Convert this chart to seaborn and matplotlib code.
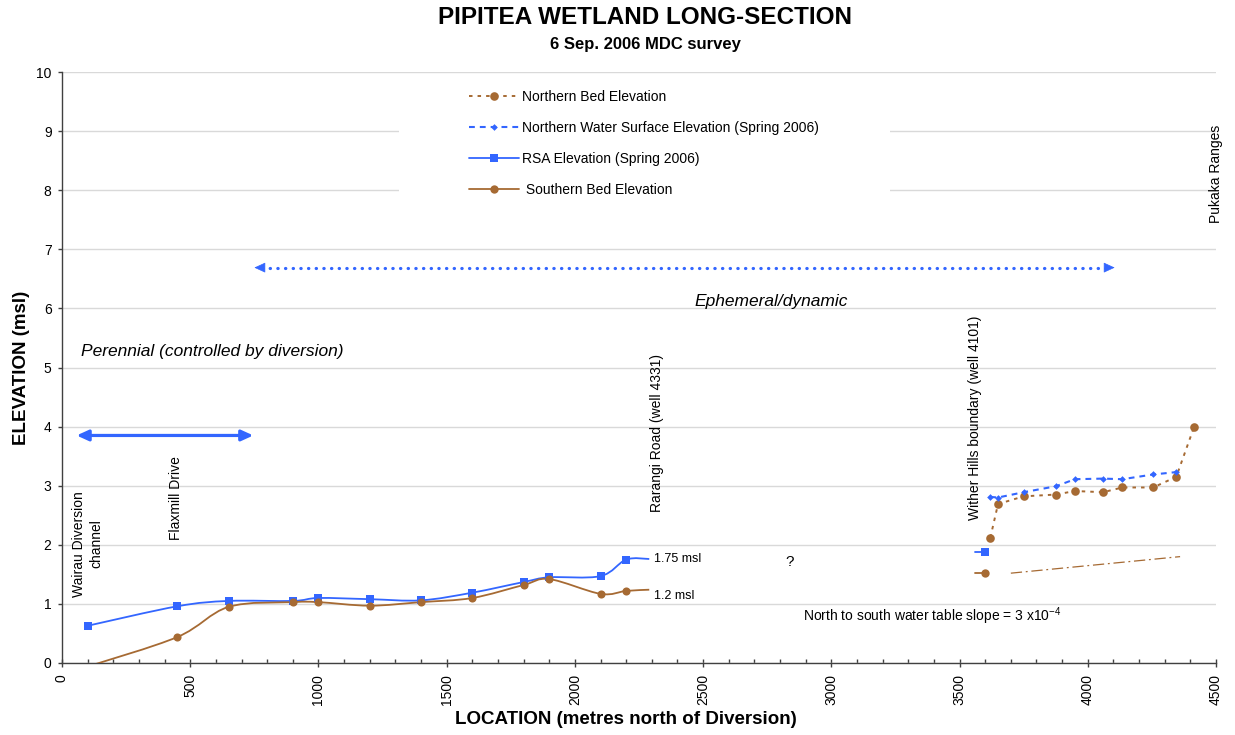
import numpy as np
import matplotlib
matplotlib.use('Agg')
import matplotlib.pyplot as plt
import seaborn as sns
from matplotlib.path import Path
from matplotlib.patches import PathPatch, Rectangle
from matplotlib.lines import Line2D
from matplotlib.ticker import MultipleLocator

# --- data (x: metres north of Diversion, y: elevation msl) ---
rsa_x = [100, 450, 650, 900, 1000, 1200, 1400, 1600, 1800, 1900, 2100, 2200, 2290]
rsa_y = [0.63, 0.96, 1.05, 1.05, 1.10, 1.08, 1.06, 1.19, 1.37, 1.45, 1.47, 1.75, 1.76]

south_x = [100, 450, 650, 900, 1000, 1200, 1400, 1600, 1800, 1900, 2100, 2200, 2290]
south_y = [-0.06, 0.44, 0.95, 1.03, 1.03, 0.97, 1.03, 1.10, 1.32, 1.42, 1.17, 1.22, 1.24]

rsa_east_x = [3560, 3600]
rsa_east_y = [1.87, 1.87]
south_east_x = [3560, 3600]
south_east_y = [1.53, 1.53]

north_bed_x = [3620, 3650, 3750, 3875, 3950, 4060, 4135, 4255, 4345, 4415]
north_bed_y = [2.12, 2.69, 2.82, 2.85, 2.91, 2.89, 2.97, 2.97, 3.15, 4.00]

north_ws_x = [3620, 3650, 3750, 3875, 3950, 4060, 4135, 4255, 4345]
north_ws_y = [2.81, 2.80, 2.89, 2.99, 3.11, 3.12, 3.11, 3.19, 3.23]

slope_x = [3700, 4360]
slope_y = [1.52, 1.80]

# zone arrows (start, end, level)
ephemeral_span = [750, 4105]
ephemeral_level = 6.69
perennial_span = [57, 746]
perennial_level = 3.85

x_ticks = list(range(0, 4501, 500))
y_ticks = list(range(0, 11))

BLUE = '#3366FF'
BROWN = '#A66A33'


def smooth_path(xs, ys):
    """Bezier path through the points (Excel style smoothed line)"""
    pts = np.column_stack([xs, ys]).astype(float)
    n = len(pts)
    verts = [pts[0]]
    codes = [Path.MOVETO]
    for i in range(n - 1):
        p0 = pts[i - 1] if i > 0 else pts[i]
        p1 = pts[i]
        p2 = pts[i + 1]
        p3 = pts[i + 2] if i + 2 < n else pts[i + 1]
        verts += [p1 + (p2 - p0) / 6, p2 - (p3 - p1) / 6, p2]
        codes += [Path.CURVE4] * 3
    return Path(verts, codes)


sns.set_theme(style='white')
plt.rcParams['font.family'] = ['Liberation Sans', 'DejaVu Sans']
plt.rcParams['mathtext.default'] = 'regular'
plt.rcParams['text.color'] = 'black'
plt.rcParams['axes.labelcolor'] = 'black'

fig = plt.figure(figsize=(12.35, 7.35), dpi=100)
ax = fig.add_axes([62 / 1235, 72 / 735, 1154 / 1235, 591 / 735])

# white box behind the legend hides the grid there
ax.add_patch(Rectangle((0.292, 0.716), 0.4255, 0.2705, transform=ax.transAxes,
                       facecolor='white', edgecolor='none', zorder=1))

# smoothed series
for xs, ys, col in [(rsa_x, rsa_y, BLUE), (south_x, south_y, BROWN)]:
    ax.add_patch(PathPatch(smooth_path(xs, ys), facecolor='none', edgecolor=col,
                           lw=1.3, zorder=3))
sns.scatterplot(x=rsa_x[:-1], y=rsa_y[:-1], marker='s', s=32, color=BLUE,
                linewidth=0, zorder=4, ax=ax)
sns.scatterplot(x=south_x[1:-1], y=south_y[1:-1], marker='o', s=34, color=BROWN,
                linewidth=0, zorder=4, ax=ax)

# eastern short pieces
sns.lineplot(x=rsa_east_x, y=rsa_east_y, color=BLUE, lw=1.3, marker='s', markersize=5.7,
             markeredgewidth=0, markevery=[1], sort=False, estimator=None, ax=ax)
sns.lineplot(x=south_east_x, y=south_east_y, color=BROWN, lw=1.3, marker='o', markersize=6,
             markeredgewidth=0, markevery=[1], sort=False, estimator=None, ax=ax)

# northern series
sns.lineplot(x=north_bed_x, y=north_bed_y, color=BROWN, lw=1.4, linestyle=(0, (1.8, 2.6)),
             marker='o', markersize=6.2, markeredgewidth=0, sort=False, estimator=None, ax=ax)
sns.lineplot(x=north_ws_x, y=north_ws_y, color=BLUE, lw=1.5, linestyle=(0, (2.8, 2.4)),
             marker='D', markersize=3.4, markeredgewidth=0, sort=False, estimator=None, ax=ax)

# water table slope
sns.lineplot(x=slope_x, y=slope_y, color=BROWN, lw=0.9, linestyle=(0, (9, 3, 1.5, 3)),
             sort=False, estimator=None, ax=ax)

# arrows
head = '-|>,head_length=0.7,head_width=0.32'
sns.lineplot(x=[ephemeral_span[0] + 30, ephemeral_span[1] - 30],
             y=[ephemeral_level, ephemeral_level], color=BLUE, lw=2.3,
             linestyle=(0, (0.1, 2.3)), solid_capstyle='round', dash_capstyle='round',
             sort=False, estimator=None, ax=ax)
for tip, tail in [(ephemeral_span[0], ephemeral_span[0] + 30),
                  (ephemeral_span[1], ephemeral_span[1] - 30)]:
    ax.annotate('', xy=(tip, ephemeral_level), xytext=(tail, ephemeral_level),
                arrowprops=dict(arrowstyle=head, color=BLUE, lw=0.5,
                                shrinkA=0, shrinkB=0, mutation_scale=10))
ax.annotate('', xy=(perennial_span[0], perennial_level), xytext=(perennial_span[1], perennial_level),
            arrowprops=dict(arrowstyle='<|-|>,head_length=0.7,head_width=0.32', color=BLUE,
                            lw=2.3, shrinkA=0, shrinkB=0, mutation_scale=10))

# text annotations
ax.text(75, 5.27, 'Perennial (controlled by diversion)', style='italic', fontsize=12.5,
        ha='left', va='center')
ax.text(2765, 6.11, 'Ephemeral/dynamic', style='italic', fontsize=12.5, ha='center', va='center')
ax.text(101, 1.12, 'Wairau Diversion\nchannel', rotation=90, fontsize=10, ha='center',
        va='bottom', multialignment='center', linespacing=1.35)
ax.text(444, 2.08, 'Flaxmill Drive', rotation=90, fontsize=10, ha='center', va='bottom')
ax.text(2319, 2.56, 'Rarangi Road (well 4331)', rotation=90, fontsize=10, ha='center', va='bottom')
ax.text(3561, 2.42, 'Wither Hills boundary (well 4101)', rotation=90, fontsize=10,
        ha='center', va='bottom')
ax.text(4500, 7.44, 'Pukaka Ranges', rotation=90, fontsize=10, ha='center', va='bottom')
ax.text(2309, 1.755, '1.75 msl', fontsize=9, ha='left', va='center')
ax.text(2309, 1.134, '1.2 msl', fontsize=9, ha='left', va='center')
ax.text(2836, 1.71, '?', fontsize=11, ha='center', va='center')
ax.text(2890, 0.80, 'North to south water table slope = 3 x10$^{-4}$', fontsize=10,
        ha='left', va='center')

# legend
handles = [
    Line2D([], [], color=BROWN, lw=1.4, linestyle=(0, (1.8, 2.6)), marker='o', markersize=6.2,
           markeredgewidth=0),
    Line2D([], [], color=BLUE, lw=1.5, linestyle=(0, (2.8, 2.4)), marker='D', markersize=3.4,
           markeredgewidth=0),
    Line2D([], [], color=BLUE, lw=1.3, marker='s', markersize=5.7, markeredgewidth=0),
    Line2D([], [], color=BROWN, lw=1.3, marker='o', markersize=6, markeredgewidth=0),
]
labels = ['Northern Bed Elevation', 'Northern Water Surface Elevation (Spring 2006)',
          'RSA Elevation (Spring 2006)', ' Southern Bed Elevation']
ax.legend(handles, labels, loc='upper left', bbox_to_anchor=(0.3527, 0.9695), frameon=False,
          fontsize=10, handlelength=3.6, handletextpad=0.2, labelspacing=1.23,
          borderpad=0, borderaxespad=0)

# axes
ax.set_xlim(0, 4500)
ax.set_ylim(0, 10)
ax.set_xticks(x_ticks)
ax.set_yticks(y_ticks)
ax.xaxis.set_minor_locator(MultipleLocator(100))
ax.set_axisbelow(True)
ax.yaxis.grid(True, color='#D9D9D9', lw=1)
ax.xaxis.grid(False)
for side in ['top', 'right']:
    ax.spines[side].set_visible(False)
for side in ['left', 'bottom']:
    ax.spines[side].set_color('#404040')
    ax.spines[side].set_linewidth(1)
ax.tick_params(axis='x', which='major', bottom=True, direction='inout', length=6, width=1,
               color='#404040', labelsize=10, pad=5, labelrotation=90, labelcolor='black')
ax.tick_params(axis='x', which='minor', bottom=True, direction='in', length=3, width=1,
               color='#404040')
ax.tick_params(axis='y', which='major', left=True, direction='out', length=3, width=1,
               color='#404040', labelsize=10, pad=4.5, labelcolor='black')

ax.set_xlabel('LOCATION (metres north of Diversion)', fontsize=13.5, fontweight='bold')
ax.xaxis.set_label_coords(0.4887, -0.081)
ax.set_ylabel('ELEVATION (msl)', fontsize=13.5, fontweight='bold')
ax.yaxis.set_label_coords(-0.0275, 0.5)

fig.text(0.5223, 1 - 18 / 735, 'PIPITEA WETLAND LONG-SECTION', ha='center', va='center',
         fontsize=17.5, fontweight='bold')
fig.text(0.5223, 1 - 44 / 735, '6 Sep. 2006 MDC survey', ha='center', va='center',
         fontsize=12, fontweight='bold')

fig.savefig('out.png', dpi=100)
